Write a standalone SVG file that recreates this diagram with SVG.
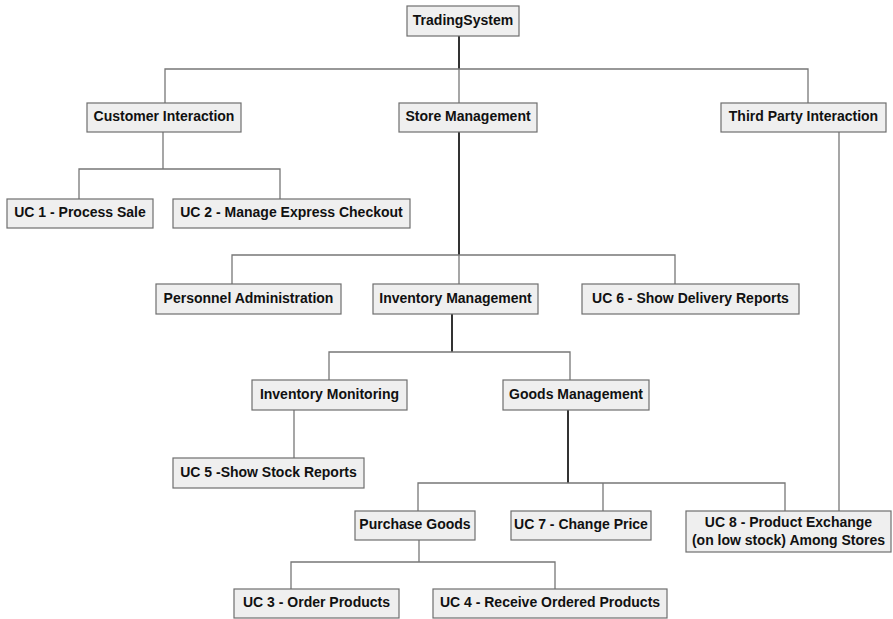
<svg xmlns="http://www.w3.org/2000/svg" width="893" height="619" viewBox="0 0 893 619">
  <style>
    .box { fill: #efefef; stroke: #6e6e6e; stroke-width: 1.2; }
    .lbl { font-family: "Liberation Sans", Arial, sans-serif; font-weight: bold; font-size: 14px; fill: #111; text-anchor: middle; }
    .ln { fill: none; stroke: #777; stroke-width: 1.3; }
    .stem { fill: none; stroke: #333; stroke-width: 2; }
  </style>
  <rect width="893" height="619" fill="#fff"/>

  <g id="connectors">
    <!-- TradingSystem -->
    <line class="stem" x1="459" y1="36" x2="459" y2="69"/>
    <polyline class="ln" points="165,103 165,69 808,69 808,103"/>
    <line class="ln" x1="459" y1="69" x2="459" y2="103"/>
    <!-- Customer Interaction -->
    <line class="ln" x1="163" y1="132" x2="163" y2="169"/>
    <polyline class="ln" points="79,199 79,169 280,169 280,199"/>
    <!-- Store Management -->
    <line class="stem" x1="459" y1="132" x2="459" y2="255"/>
    <polyline class="ln" points="232,284 232,255 675,255 675,284"/>
    <line class="ln" x1="459" y1="255" x2="459" y2="284"/>
    <!-- Third Party Interaction -->
    <line class="ln" x1="839" y1="132" x2="839" y2="511"/>
    <!-- Inventory Management -->
    <line class="stem" x1="452" y1="314" x2="452" y2="352"/>
    <polyline class="ln" points="329,380 329,352 570,352 570,380"/>
    <!-- Inventory Monitoring -->
    <line class="ln" x1="294" y1="410" x2="294" y2="458"/>
    <!-- Goods Management -->
    <line class="stem" x1="568" y1="410" x2="568" y2="483"/>
    <polyline class="ln" points="418,511 418,483 785,483 785,511"/>
    <line class="ln" x1="603" y1="483" x2="603" y2="511"/>
    <!-- Purchase Goods -->
    <line class="ln" x1="419" y1="540" x2="419" y2="562"/>
    <polyline class="ln" points="291,589 291,562 555,562 555,589"/>
  </g>

  <g id="trading-system">
    <rect class="box" x="407" y="6" width="112" height="30"/>
    <text class="lbl" x="463" y="24.5">TradingSystem</text>
  </g>
  <g id="customer-interaction">
    <rect class="box" x="87" y="103" width="154" height="29"/>
    <text class="lbl" x="164" y="121">Customer Interaction</text>
  </g>
  <g id="store-management">
    <rect class="box" x="399" y="103" width="138" height="29"/>
    <text class="lbl" x="468" y="121">Store Management</text>
  </g>
  <g id="third-party-interaction">
    <rect class="box" x="721" y="103" width="165" height="29"/>
    <text class="lbl" x="803.5" y="121">Third Party Interaction</text>
  </g>
  <g id="uc1">
    <rect class="box" x="7" y="199" width="146" height="29"/>
    <text class="lbl" x="80" y="217">UC 1 - Process Sale</text>
  </g>
  <g id="uc2">
    <rect class="box" x="173" y="199" width="237" height="29"/>
    <text class="lbl" x="291.5" y="217">UC 2 - Manage Express Checkout</text>
  </g>
  <g id="personnel-administration">
    <rect class="box" x="156" y="284" width="185" height="30"/>
    <text class="lbl" x="248.5" y="302.5">Personnel Administration</text>
  </g>
  <g id="inventory-management">
    <rect class="box" x="373" y="284" width="165" height="30"/>
    <text class="lbl" x="455.5" y="302.5">Inventory Management</text>
  </g>
  <g id="uc6">
    <rect class="box" x="582" y="284" width="217" height="30"/>
    <text class="lbl" x="690.5" y="302.5">UC 6 - Show Delivery Reports</text>
  </g>
  <g id="inventory-monitoring">
    <rect class="box" x="252" y="380" width="155" height="30"/>
    <text class="lbl" x="329.5" y="398.5">Inventory Monitoring</text>
  </g>
  <g id="goods-management">
    <rect class="box" x="503" y="380" width="146" height="30"/>
    <text class="lbl" x="576" y="398.5">Goods Management</text>
  </g>
  <g id="uc5">
    <rect class="box" x="173" y="458" width="191" height="30"/>
    <text class="lbl" x="268.5" y="476.5">UC 5 -Show Stock Reports</text>
  </g>
  <g id="purchase-goods">
    <rect class="box" x="355" y="511" width="120" height="29"/>
    <text class="lbl" x="415" y="529">Purchase Goods</text>
  </g>
  <g id="uc7">
    <rect class="box" x="511" y="511" width="140" height="29"/>
    <text class="lbl" x="581" y="529">UC 7 - Change Price</text>
  </g>
  <g id="uc8">
    <rect class="box" x="686" y="511" width="205" height="41"/>
    <text class="lbl" x="788.5" y="527">UC 8 - Product Exchange</text>
    <text class="lbl" x="788.5" y="545">(on low stock) Among Stores</text>
  </g>
  <g id="uc3">
    <rect class="box" x="234" y="589" width="165" height="29"/>
    <text class="lbl" x="316.5" y="607">UC 3 - Order Products</text>
  </g>
  <g id="uc4">
    <rect class="box" x="433" y="589" width="234" height="29"/>
    <text class="lbl" x="550" y="607">UC 4 - Receive Ordered Products</text>
  </g>
</svg>
